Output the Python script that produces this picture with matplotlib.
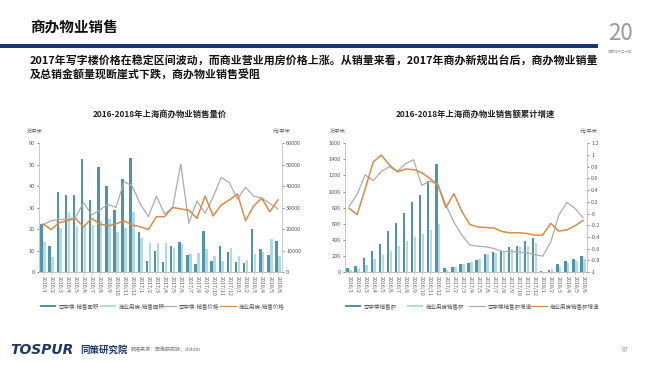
import matplotlib
matplotlib.use("Agg")
import matplotlib.pyplot as plt
import numpy as np

plt.rcParams['font.family'] = ['Noto Sans CJK SC', 'DejaVu Sans']

months = (["2016/%d" % m for m in range(1, 13)] +
          ["2017/%d" % m for m in range(1, 13)] +
          ["2018/%d" % m for m in range(1, 7)])

# left chart: 销售面积 (万平米) and 销售价格 (元/平米)
office_area = [22.5, 12, 37.5, 36, 36, 52.5, 33.5, 49, 40, 29, 43.5, 53,
               18.5, 5, 10, 4.5, 12, 14, 8, 3.5, 19.2, 5.2, 12.2, 9.3,
               4.8, 4.2, 20.2, 10.8, 7.8, 14.5]
comm_area = [14, 7.2, 20.5, 28, 21, 22, 22, 24, 24.5, 18.5, 20.5, 28,
             16, 13.3, 13.3, 13.3, 11, 13, 8.2, 8.8, 10.8, 7.5, 5.2, 11,
             7.6, 5.8, 8.5, 9.5, 15.2, 7.5]
office_price = [21900, 23900, 24500, 24500, 25500, 32300, 26600, 28900, 31600, 30100,
                42100, 40100, 31700, 25800, 35400, 27000, 30000, 50300, 22700, 33100,
                27400, 35000, 44100, 41600, 34000, 39500, 35400, 34500, 32000, 29400]
comm_price = [22400, 19800, 23000, 23900, 25000, 21100, 25000, 22400, 21500, 22400,
              23900, 21900, 21100, 19800, 25800, 25800, 30100, 29400, 28800, 25000,
              35400, 26100, 31200, 33600, 36400, 23900, 30800, 34400, 28100, 33600]

# right chart: 销售额 and 累计增速
office_amt = [46, 75, 170, 258, 345, 515, 604, 738, 867, 954, 1133, 1346,
              48, 67, 104, 114, 155, 223, 244, 258, 308, 328, 383, 417,
              8, 22, 102, 138, 160, 205]
comm_amt = [21, 37, 83, 158, 217, 262, 320, 385, 429, 471, 525, 592,
            25, 58, 100, 125, 158, 208, 233, 254, 292, 308, 325, 358,
            4, 37, 67, 108, 142, 167]
office_growth = [0.12, 0.33, 0.66, 0.56, 0.72, 0.80, 0.72, 0.85, 0.92, 0.48,
                 0.55, 0.50, 0.15, -0.15, -0.37, -0.54, -0.56, -0.57, -0.60, -0.65,
                 -0.65, -0.66, -0.67, -0.70, -0.73, -0.49, -0.03, 0.19, 0.09, -0.07]
comm_growth = [0.09, -0.02, 0.42, 0.88, 1.0, 0.83, 0.71, 0.76, 0.75, 0.70,
               0.60, 0.49, 0.10, 0.34, 0.03, -0.19, -0.23, -0.24, -0.25, -0.31,
               -0.33, -0.33, -0.34, -0.37, -0.37, -0.17, -0.30, -0.28, -0.21, -0.12]

DARK = "#4f95a8"
LIGHT = "#b3d9e3"
GRAY = "#acacac"
ORANGE = "#d98b48"
NAVY = "#1d3768"
TICK = "#595959"

fig = plt.figure(figsize=(6.5, 3.65), dpi=100)
fig.patch.set_facecolor("white")

# header
fig.text(30 / 650, 1 - 27 / 365, "商办物业销售", fontsize=10.5, fontweight="bold",
         color="#111111", va="center")
fig.add_artist(plt.Rectangle((0, 1 - 47.5 / 365), 598 / 650, 3.2 / 365,
                             transform=fig.transFigure, color=NAVY, lw=0))
fig.text(30 / 650, 1 - 60 / 365,
         "2017年写字楼价格在稳定区间波动，而商业营业用房价格上涨。从销量来看，2017年商办新规出台后，商办物业销量",
         fontsize=7.9, fontweight="bold", color="#111111", va="center")
fig.text(30 / 650, 1 - 74 / 365, "及总销金额量现断崖式下跌，商办物业销售受阻",
         fontsize=7.9, fontweight="bold", color="#111111", va="center")
fig.text(620 / 650, 1 - 33 / 365, "20", fontsize=16, color="#9a9a9a",
         ha="center", va="center")
fig.text(620 / 650, 1 - 51 / 365, "同策地产二十年", fontsize=2.5, color="#9a9a9a",
         ha="center", va="center")

# footer
fig.text(10 / 650, 1 - 350 / 365, "TOSPUR", fontsize=10, fontweight="bold",
         style="italic", color=NAVY, va="center", family="DejaVu Sans")
fig.text(80 / 650, 1 - 350 / 365, "同策研究院", fontsize=6.8, fontweight="bold",
         style="italic", color=NAVY, va="center")
fig.text(131 / 650, 1 - 350 / 365, "数据来源：同策研究院，datain", fontsize=3.6,
         color="#777777", va="center")
fig.text(622 / 650, 1 - 350 / 365, "87", fontsize=4.5, color="#999999", va="center")

x = np.arange(len(months))
H = 1 - 272 / 365
T = (272 - 143.3) / 365


def style_axes(ax, ax2):
    for a in (ax, ax2):
        a.spines["top"].set_visible(False)
        for s in ("left", "right", "bottom"):
            a.spines[s].set_color("#bfbfbf")
            a.spines[s].set_linewidth(0.6)
        a.tick_params(labelsize=4, colors=TICK, length=1.5, width=0.5, pad=1.5)
    ax.set_xlim(-0.5, len(months) - 0.5)
    ax.set_xticks(x)
    ax.set_xticklabels(months, rotation=270, fontsize=3.8)
    ax.tick_params(axis="x", length=1.5, color="#bfbfbf")
    ax2.spines["left"].set_visible(False)
    ax.spines["right"].set_visible(False)


def legend_row(y, x0, labels, step):
    kinds = ["dark", "light", "gray", "orange"]
    for i, (k, lab) in enumerate(zip(kinds, labels)):
        xx = (x0 + i * step) / 650
        if k in ("dark", "light"):
            fig.add_artist(plt.Rectangle((xx, y - 1.2 / 365), 16 / 650, 2.6 / 365,
                                         transform=fig.transFigure,
                                         color=DARK if k == "dark" else LIGHT, lw=0))
        else:
            fig.add_artist(plt.Line2D([xx, xx + 16 / 650], [y, y],
                                      transform=fig.transFigure,
                                      color=GRAY if k == "gray" else ORANGE, lw=0.9))
        fig.text(xx + 19 / 650, y, lab, fontsize=4, color=TICK, va="center")


# left chart
ax = fig.add_axes([39 / 650, H, (282 - 39) / 650, T])
ax2 = ax.twinx()
ax.bar(x - 0.18, office_area, width=0.3, color=DARK, zorder=2)
ax.bar(x + 0.18, comm_area, width=0.3, color=LIGHT, zorder=2)
ax2.plot(x, office_price, color=GRAY, lw=0.9)
ax2.plot(x, comm_price, color=ORANGE, lw=1.1)
ax.set_ylim(0, 60)
ax.set_yticks(range(0, 61, 10))
ax2.set_ylim(0, 60000)
ax2.set_yticks(range(0, 60001, 10000))
style_axes(ax, ax2)
fig.text(160 / 650, 1 - 114 / 365, "2016-2018年上海商办物业销售量价", fontsize=6,
         fontweight="bold", color="#222222", ha="center", va="center")
fig.text(27 / 650, 1 - 131 / 365, "万平米", fontsize=3.8, color=TICK, va="center")
fig.text(273 / 650, 1 - 131 / 365, "元/平米", fontsize=3.8, color=TICK, va="center")
legend_row(1 - 306 / 365, 40,
           ["写字楼-销售面积", "商业用房-销售面积", "写字楼-销售价格", "商业用房-销售价格"], 60)

# right chart
bx = fig.add_axes([345 / 650, H, (587 - 345) / 650, T])
bx2 = bx.twinx()
bx.bar(x - 0.18, office_amt, width=0.3, color=DARK, zorder=2)
bx.bar(x + 0.18, comm_amt, width=0.3, color=LIGHT, zorder=2)
bx2.plot(x, office_growth, color=GRAY, lw=0.9)
bx2.plot(x, comm_growth, color=ORANGE, lw=1.1)
bx.set_ylim(0, 1600)
bx.set_yticks(range(0, 1601, 200))
ticks_r = np.round(np.arange(-1, 1.21, 0.2), 1)
bx2.set_ylim(-1, 1.2)
bx2.set_yticks(ticks_r)
bx2.set_yticklabels(["%g" % v for v in ticks_r])
style_axes(bx, bx2)
fig.text(475 / 650, 1 - 114 / 365, "2016-2018年上海商办物业销售额累计增速", fontsize=6,
         fontweight="bold", color="#222222", ha="center", va="center")
fig.text(330 / 650, 1 - 131 / 365, "万平米", fontsize=3.8, color=TICK, va="center")
fig.text(580 / 650, 1 - 131 / 365, "元/平米", fontsize=3.8, color=TICK, va="center")
legend_row(1 - 306 / 365, 345,
           ["写字楼销售额", "商业用房销售额", "写字楼销售额增速", "商业用房销售额增速"], 62)

fig.savefig("out.png", dpi=100, facecolor="white")
